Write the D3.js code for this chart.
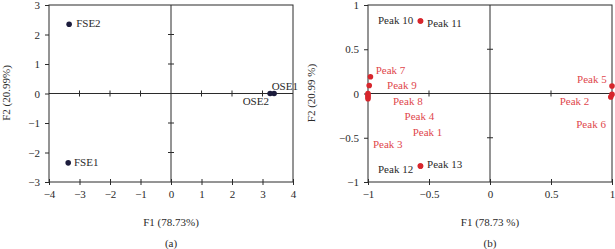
<!DOCTYPE html>
<html lang="en">
<head>
  <meta charset="UTF-8" />
  <title>PCA score and loading plots</title>
  <script src="https://cdn.jsdelivr.net/npm/d3@7/dist/d3.min.js"></script>
  <style>
    body { margin: 0; background: #fff; }
    svg text { font-family: "Liberation Serif", "DejaVu Serif", serif; }
  </style>
</head>
<body>
<svg id="chart" width="615" height="249"></svg>
<script>
// ---- data: panel (a) scores ----
const scoreNames = ["FSE2", "FSE1", "OSE1", "OSE2"];
const scoreX = [-3.34, -3.37, 3.38, 3.25];
const scoreY = [2.35, -2.35, 0.0, 0.0];
// label anchors (data units)
const scoreLabelX = [-3.11, -3.18, 3.3, 2.35];
const scoreLabelY = [2.37, -2.32, 0.25, -0.26];

// ---- data: panel (b) loadings ----
const peakNames = ["Peak 1", "Peak 2", "Peak 3", "Peak 4", "Peak 5", "Peak 6", "Peak 7",
                   "Peak 8", "Peak 9", "Peak 10", "Peak 11", "Peak 12", "Peak 13"];
const peakX = [-1.0, 1.0, -1.0, -1.0, 1.0, 0.99, -0.98, -1.0, -0.99, -0.57, -0.57, -0.57, -0.57];
const peakY = [-0.04, -0.01, -0.02, -0.06, 0.085, -0.04, 0.19, 0.0, 0.09, 0.82, 0.82, -0.82, -0.82];
const peakLabelX = [-0.634, 0.571, -0.96, -0.70, 0.957, 0.95, -0.937, -0.795, -0.844, -0.918, -0.516, -0.918, -0.516];
const peakLabelY = [-0.44, -0.09, -0.57, -0.26, 0.165, -0.35, 0.26, -0.09, 0.09, 0.83, 0.80, -0.85, -0.80];
const peakLabelAnchor = ["start", "start", "start", "start", "end", "end", "start",
                         "start", "start", "start", "start", "start", "start"];
const peakIsBlack = [false, false, false, false, false, false, false,
                     false, false, true, true, true, true];

const xTicksA = [-4, -3, -2, -1, 0, 1, 2, 3, 4];
const yTicksA = [-3, -2, -1, 0, 1, 2, 3];
const ticksB = [-1, -0.5, 0, 0.5, 1];

const svg = d3.select("#chart");
const ink = "#2b2b2b";
const textInk = "#2a2a2a";
const red = "#d7262c";
const redText = "#e0474c";
const fmt = d => String(d).replace("-", "\u2212");

function panel(opt) {
  const g = svg.append("g");
  const x = d3.scaleLinear().domain(opt.xDomain).range(opt.xRange);
  const y = d3.scaleLinear().domain(opt.yDomain).range([182, 5]);

  // frame
  g.append("rect")
    .attr("x", opt.xRange[0]).attr("y", 5)
    .attr("width", opt.xRange[1] - opt.xRange[0]).attr("height", 177)
    .attr("fill", "none").attr("stroke", ink).attr("stroke-width", 1);

  const style = sel => {
    sel.select(".domain").remove();
    sel.selectAll("line").attr("stroke", ink);
    sel.selectAll("text").attr("fill", textInk).attr("font-size", 11);
  };

  // bottom axis with labels, crossing ticks
  g.append("g").attr("transform", "translate(0,182)")
    .call(d3.axisBottom(x).tickValues(opt.xTicks).tickSize(3).tickPadding(5).tickFormat(fmt))
    .call(style);
  g.append("g").attr("transform", "translate(0,182)")
    .call(d3.axisTop(x).tickValues(opt.xTicks).tickSize(3).tickFormat(""))
    .call(style);
  // left axis with labels
  g.append("g").attr("transform", `translate(${opt.xRange[0]},0)`)
    .call(d3.axisLeft(y).tickValues(opt.yTicks).tickSize(4).tickPadding(5).tickFormat(fmt))
    .call(style);

  // centre cross axes
  g.append("line").attr("x1", x(0)).attr("x2", x(0)).attr("y1", 5).attr("y2", 182)
    .attr("stroke", ink);
  g.append("line").attr("x1", opt.xRange[0]).attr("x2", opt.xRange[1]).attr("y1", y(0)).attr("y2", y(0))
    .attr("stroke", ink);
  const innerX = opt.xTicks.filter(v => v !== 0 && v !== opt.xDomain[0] && v !== opt.xDomain[1]);
  const innerY = opt.yTicks.filter(v => v !== 0 && v !== opt.yDomain[0] && v !== opt.yDomain[1]);
  g.selectAll(".cx").data(innerX).join("line")
    .attr("x1", d => x(d)).attr("x2", d => x(d))
    .attr("y1", y(0) - 3).attr("y2", y(0) + 3).attr("stroke", ink);
  g.selectAll(".cy").data(innerY).join("line")
    .attr("y1", d => y(d)).attr("y2", d => y(d))
    .attr("x1", x(0) - 3).attr("x2", x(0) + 3).attr("stroke", ink);

  // axis titles
  const cx = (opt.xRange[0] + opt.xRange[1]) / 2;
  g.append("text").attr("x", cx).attr("y", 226).attr("text-anchor", "middle")
    .attr("font-size", 11).attr("fill", textInk).text(opt.xTitle);
  g.append("text").attr("x", cx).attr("y", 247).attr("text-anchor", "middle")
    .attr("font-size", 11).attr("fill", textInk).text(opt.tag);
  g.append("text")
    .attr("transform", `translate(${opt.yTitleX},93) rotate(-90)`)
    .attr("text-anchor", "middle").attr("font-size", 11).attr("fill", textInk)
    .text(opt.yTitle);

  return { g, x, y };
}

// ---- panel (a) ----
const A = panel({
  xDomain: [-4, 4], yDomain: [-3, 3], xRange: [49, 293],
  xTicks: xTicksA, yTicks: yTicksA,
  xTitle: "F1 (78.73%)", yTitle: "F2 (20.99%)", yTitleX: 10, tag: "(a)"
});
const scores = scoreNames.map((n, i) => ({ n, x: scoreX[i], y: scoreY[i], lx: scoreLabelX[i], ly: scoreLabelY[i] }));
A.g.selectAll(".pt").data(scores).join("circle")
  .attr("cx", d => A.x(d.x)).attr("cy", d => A.y(d.y)).attr("r", 2.8)
  .attr("fill", "#1c1c3c");
A.g.selectAll(".lb").data(scores).join("text")
  .attr("x", d => A.x(d.lx)).attr("y", d => A.y(d.ly)).attr("dy", "0.35em")
  .attr("font-size", 11).attr("fill", textInk).text(d => d.n);

// ---- panel (b) ----
const B = panel({
  xDomain: [-1, 1], yDomain: [-1, 1], xRange: [368, 612],
  xTicks: ticksB, yTicks: ticksB,
  xTitle: "F1 (78.73 %)", yTitle: "F2 (20.99 %)", yTitleX: 315, tag: "(b)"
});
const peaks = peakNames.map((n, i) => ({
  n, x: peakX[i], y: peakY[i], lx: peakLabelX[i], ly: peakLabelY[i],
  a: peakLabelAnchor[i], black: peakIsBlack[i]
}));
B.g.selectAll(".pt").data(peaks).join("circle")
  .attr("cx", d => B.x(d.x)).attr("cy", d => B.y(d.y)).attr("r", 2.8)
  .attr("fill", red);
B.g.selectAll(".lb").data(peaks).join("text")
  .attr("x", d => B.x(d.lx)).attr("y", d => B.y(d.ly)).attr("dy", "0.35em")
  .attr("text-anchor", d => d.a)
  .attr("font-size", 11).attr("fill", d => d.black ? textInk : redText).text(d => d.n);
</script>
</body>
</html>
